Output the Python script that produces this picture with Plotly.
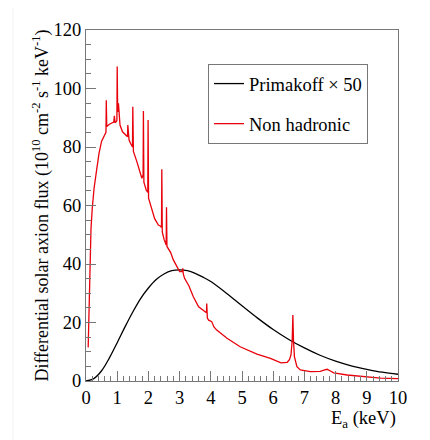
import plotly.graph_objects as go

# Primakoff x 50
prim_E = [0, 0.25, 0.5, 0.75, 1.0, 1.25, 1.5, 1.75, 2.0, 2.25, 2.5, 2.75, 3.0, 3.25, 3.5, 3.75,
          4.0, 4.5, 5.0, 5.5, 6.0, 6.5, 7.0, 7.5, 8.0, 8.5, 9.0, 9.5, 10.0]
prim_V = [0, 0.8, 3.5, 7.9, 13.1, 18.5, 23.6, 28.2, 31.8, 34.7, 36.6, 37.7, 38.0, 37.7, 36.8, 35.5,
          34.0, 30.0, 25.7, 21.5, 17.6, 14.2, 11.3, 8.8, 6.8, 5.2, 4.0, 3.0, 2.3]

# Non hadronic
nh_E = [0.07, 0.09, 0.11, 0.13, 0.16, 0.20, 0.26, 0.34, 0.42, 0.50, 0.60, 0.64, 0.65, 0.665,
        0.75, 0.84, 0.89, 0.91, 0.93, 0.99, 1.00, 1.015, 1.04, 1.06, 1.09, 1.17, 1.27, 1.33,
        1.34, 1.355, 1.38, 1.43, 1.49, 1.50, 1.515, 1.52, 1.63, 1.73, 1.79, 1.83, 1.84, 1.855,
        1.93, 1.98, 1.99, 2.005, 2.05, 2.11, 2.20, 2.32, 2.38, 2.42, 2.43, 2.445, 2.50, 2.57,
        2.58, 2.595, 2.71, 2.80, 2.93, 3.00, 3.08, 3.10, 3.12, 3.16, 3.30, 3.44, 3.61, 3.82,
        3.86, 3.87, 3.89, 3.93, 4.03, 4.10, 4.19, 4.52, 4.94, 5.48, 5.91, 6.25, 6.45, 6.52,
        6.57, 6.61, 6.63, 6.65, 6.68, 6.76, 6.87, 7.19, 7.51, 7.65, 7.73, 7.82, 7.94, 8.37,
        8.90, 9.44, 9.97, 10.0]
nh_V = [11.5, 20, 35, 44.8, 52, 59, 66, 72.1, 78, 82, 84.1, 85, 96, 87,
        87.8, 88.1, 88.5, 90.7, 88.3, 89, 107.5, 92, 94.9, 90, 87.5, 85.2, 84.1, 83.5,
        87.5, 82.8, 82.4, 81.2, 80, 93.8, 79, 78.5, 75, 71, 69.3, 70.5, 92.3, 68,
        65.3, 64.5, 89.2, 62.5, 61, 58.5, 55.5, 53.3, 53, 52.5, 72.4, 51, 48.5, 46.5,
        59.4, 46, 44, 41.4, 38.5, 37.4, 37.5, 38.5, 36.5, 35.1, 32.5, 28.8, 25.4, 23.7,
        23.3, 26.5, 21.5, 20.8, 20.3, 18.5, 17.4, 14.6, 11.7, 9.2, 7.7, 6.2, 6.4, 7.3,
        8.9, 14, 22.6, 14, 8.3, 4.9, 3.8, 3.2, 3.3, 3.8, 4.0, 3.5, 2.8, 2.05,
        1.5, 1.0, 0.8, 0.8]

x_ticks = [0, 1, 2, 3, 4, 5, 6, 7, 8, 9, 10]
y_ticks = [0, 20, 40, 60, 80, 100, 120]

FONT = "'Liberation Serif', 'Times New Roman', Times, serif"
FS = 18.5

fig = go.Figure()
fig.add_trace(go.Scatter(x=prim_E, y=prim_V, mode="lines", name="Primakoff \u00d7 50",
                         legendgroup="a", line=dict(color="black", width=1.3, shape="spline")))
fig.add_trace(go.Scatter(x=nh_E, y=nh_V, mode="lines", name="Non hadronic",
                         legendgroup="b", line=dict(color="#e8000b", width=1.3)))

axis_common = dict(showgrid=False, zeroline=False, showline=True, linecolor="#777777",
                   linewidth=1, mirror=True, ticks="inside", tickcolor="#777777",
                   ticklen=10, tickwidth=1, automargin=False,
                   tickfont=dict(family=FONT, size=FS, color="black"))

fig.update_xaxes(range=[0, 10], tickvals=x_ticks, ticktext=[str(v) for v in x_ticks],
                 minor=dict(dtick=0.2, ticks="inside", ticklen=5, tickcolor="#777777"),
                 **axis_common)
fig.update_yaxes(range=[0, 120], tickvals=y_ticks, ticktext=[str(v) for v in y_ticks],
                 minor=dict(dtick=5, ticks="inside", ticklen=5, tickcolor="#777777"),
                 title=dict(text="Differential solar axion flux (10<sup>10</sup> cm<sup>-2</sup> s<sup>-1</sup> keV<sup>-1</sup>)",
                            font=dict(family=FONT, size=18, color="black"), standoff=0),
                 **axis_common)

fig.add_annotation(text="E<sub>a</sub> (keV)", xref="paper", yref="paper", x=1.0, y=-0.07,
                   xanchor="right", yanchor="top", showarrow=False,
                   font=dict(family=FONT, size=FS, color="black"))

# faint page border
fig.add_shape(type="line", xref="paper", yref="paper", x0=1.0962, x1=1.0962, y0=-0.2, y1=1.0712,
              line=dict(color="#aaaaaa", width=1))
fig.add_shape(type="line", xref="paper", yref="paper", x0=-0.234, x1=1.0962, y0=1.0712, y1=1.0712,
              line=dict(color="#eeeeee", width=1))
fig.add_shape(type="line", xref="paper", yref="paper", x0=-0.234, x1=-0.234, y0=-0.2, y1=1.0712,
              line=dict(color="#f2f2f2", width=1))

fig.update_layout(
    width=430, height=440,
    margin=dict(l=78, r=40, t=22, b=67),
    paper_bgcolor="white", plot_bgcolor="white",
    font=dict(family=FONT, size=FS, color="black"),
    legend=dict(x=0.391, y=0.903, xanchor="left", yanchor="top",
                bordercolor="#777777", borderwidth=1, bgcolor="white",
                tracegroupgap=13, font=dict(family=FONT, size=FS, color="black")),
)

fig.write_html("out.html")
